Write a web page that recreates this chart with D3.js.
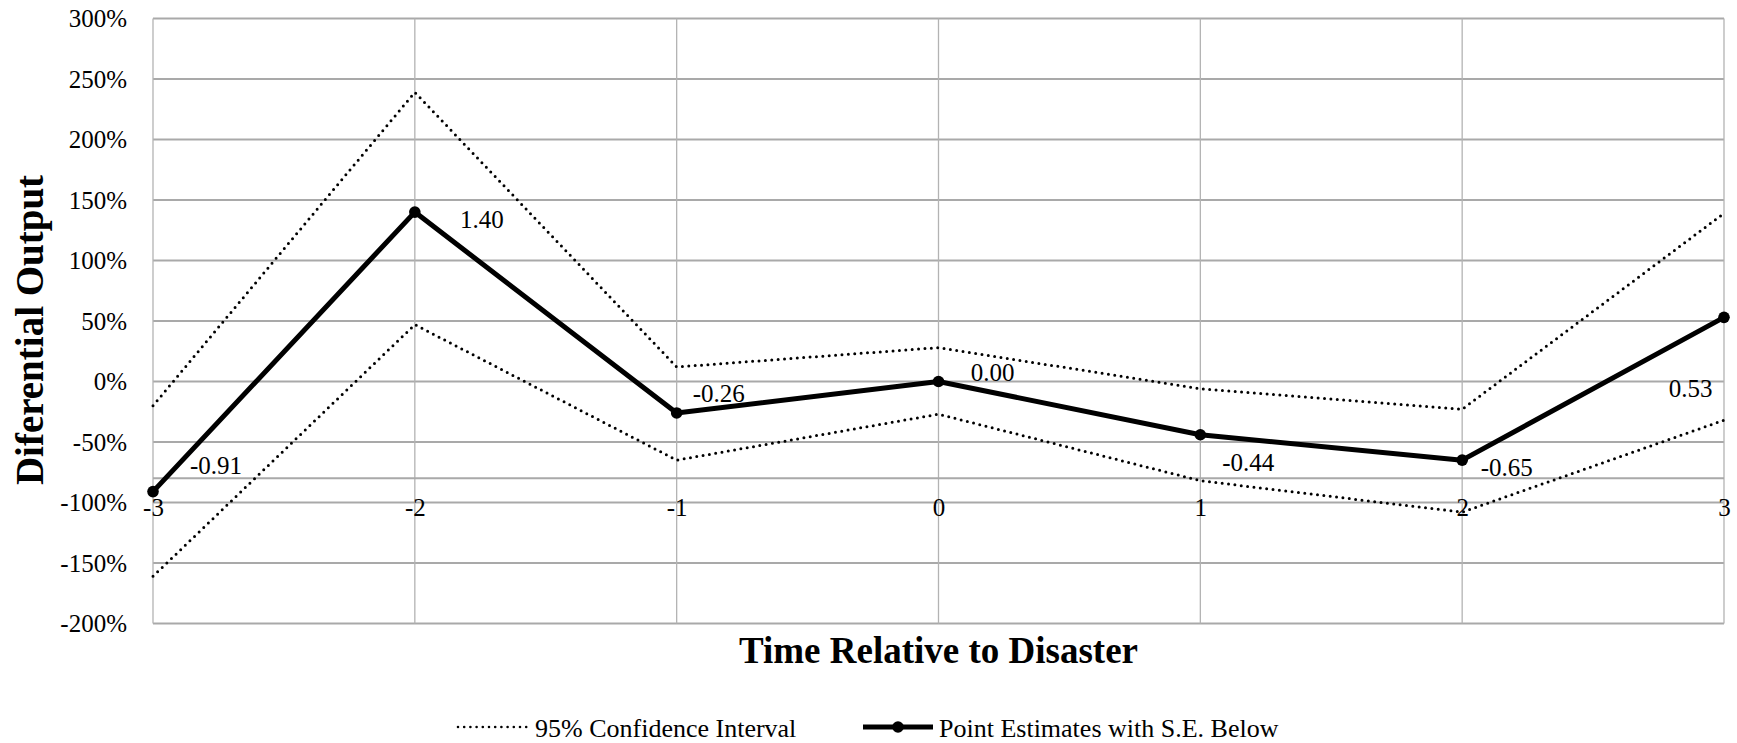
<!DOCTYPE html>
<html>
<head>
<meta charset="utf-8">
<script src="https://cdn.jsdelivr.net/npm/d3@7"></script>
<style>
  html, body { margin: 0; padding: 0; background: #fff; }
  svg { display: block; }
  svg text { font-family: "Times New Roman", "Liberation Serif", Tinos, serif !important; fill: #000; }
</style>
</head>
<body>
<svg id="chart" width="1737" height="743"></svg>
<script>
// ---- data ----
const periods = [-3, -2, -1, 0, 1, 2, 3];
const estimates = [-0.91, 1.40, -0.26, 0.00, -0.44, -0.65, 0.53];
const ciUpper = [-0.20, 2.39, 0.12, 0.28, -0.06, -0.23, 1.39];
const ciLower = [-1.61, 0.47, -0.65, -0.27, -0.82, -1.08, -0.32];
const yTicks = [-2, -1.5, -1, -0.5, 0, 0.5, 1, 1.5, 2, 2.5, 3];
const xAxisCross = -0.8;
const xTitle = "Time Relative to Disaster";
const yTitle = "Diferential Output";
const legendCI = "95% Confidence Interval";
const legendPE = "Point Estimates with S.E. Below";

// ---- layout (not data) ----
const labelOffsets = [[63, -26], [67, 7.5], [42, -19.5], [54, -9], [48, 28], [44.5, 7.5], [-33.5, 71]];

(function () {
const svg = d3.select("#chart");
const pLeft = 153, pRight = 1724, pTop = 18.5, pBottom = 623.5;
const serif = "'Times New Roman', 'Liberation Serif', serif";

const x = d3.scaleLinear().domain([-3, 3]).range([pLeft, pRight]);
const y = d3.scaleLinear().domain([-2, 3]).range([pBottom, pTop]);

// horizontal gridlines
svg.append("g").selectAll("line").data(yTicks).join("line")
  .attr("x1", pLeft).attr("x2", pRight)
  .attr("y1", d => y(d)).attr("y2", d => y(d))
  .attr("stroke", "#a9a9a9").attr("stroke-width", 2);

// vertical gridlines
svg.append("g").selectAll("line").data(periods).join("line")
  .attr("x1", d => x(d)).attr("x2", d => x(d))
  .attr("y1", pTop).attr("y2", pBottom)
  .attr("stroke", "#b3b3b3").attr("stroke-width", 1.3);

// horizontal axis line crossing at -0.8
svg.append("line")
  .attr("x1", pLeft).attr("x2", pRight)
  .attr("y1", y(xAxisCross)).attr("y2", y(xAxisCross))
  .attr("stroke", "#a9a9a9").attr("stroke-width", 2);

// y-axis via d3 axis (labels only)
const yAxis = d3.axisLeft(y).tickValues(yTicks)
  .tickFormat(d => Math.round(d * 100) + "%").tickSize(0).tickPadding(26);
const gy = svg.append("g").attr("transform", `translate(${pLeft},0)`).call(yAxis)
  .attr("font-family", serif).attr("font-size", 25);
gy.select(".domain").remove();
gy.selectAll("text").attr("fill", "#000");

// x-axis via d3 axis (labels only), at crossing
const xAxis = d3.axisBottom(x).tickValues(periods).tickFormat(d => d < 0 ? "-" + Math.abs(d) : String(d)).tickSize(0).tickPadding(20);
const gx = svg.append("g").attr("transform", `translate(0,${y(xAxisCross)})`).call(xAxis)
  .attr("font-family", serif).attr("font-size", 25);
gx.select(".domain").remove();
gx.selectAll("text").attr("fill", "#000");

// CI lines (dotted)
const line = d3.line().x((d, i) => x(periods[i])).y(d => y(d));
[ciUpper, ciLower].forEach(arr => {
  svg.append("path").attr("d", line(arr))
    .attr("fill", "none").attr("stroke", "#000").attr("stroke-width", 3)
    .attr("stroke-linecap", "round").attr("stroke-dasharray", "0,6.4");
});

// point estimates
svg.append("path").attr("d", line(estimates))
  .attr("fill", "none").attr("stroke", "#000").attr("stroke-width", 5)
  .attr("stroke-linejoin", "round");
svg.append("g").selectAll("circle").data(estimates).join("circle")
  .attr("cx", (d, i) => x(periods[i])).attr("cy", d => y(d)).attr("r", 5.8).attr("fill", "#000");

// data labels
svg.append("g").selectAll("text").data(estimates).join("text")
  .attr("x", (d, i) => x(periods[i]) + labelOffsets[i][0])
  .attr("y", (d, i) => y(d) + labelOffsets[i][1])
  .attr("dy", "0.35em").attr("text-anchor", "middle").attr("font-size", 25)
  .text(d => d.toFixed(2));

// axis titles
svg.append("text").attr("x", (pLeft + pRight) / 2).attr("y", 663)
  .attr("text-anchor", "middle").attr("font-size", 37).attr("font-weight", "bold").text(xTitle);
svg.append("text").attr("transform", "translate(43,330) rotate(-90)")
  .attr("text-anchor", "middle").attr("font-size", 39).attr("font-weight", "bold").text(yTitle);

// legend
const ly = 727;
svg.append("line").attr("x1", 458).attr("x2", 527).attr("y1", ly).attr("y2", ly)
  .attr("stroke", "#000").attr("stroke-width", 2.6).attr("stroke-linecap", "round").attr("stroke-dasharray", "0,6.2");
svg.append("text").attr("x", 535).attr("y", 737).attr("font-size", 26).text(legendCI);
svg.append("line").attr("x1", 863).attr("x2", 933).attr("y1", ly).attr("y2", ly)
  .attr("stroke", "#000").attr("stroke-width", 5);
svg.append("circle").attr("cx", 898).attr("cy", ly).attr("r", 5.8).attr("fill", "#000");
svg.append("text").attr("x", 939).attr("y", 737).attr("font-size", 26).text(legendPE);
})();
</script>
</body>
</html>
